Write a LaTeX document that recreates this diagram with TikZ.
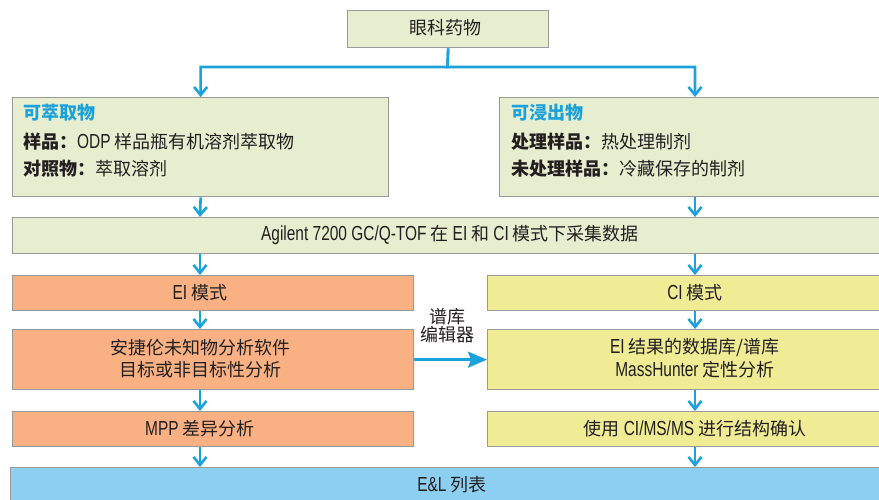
\documentclass[tikz,border=0pt]{standalone}
\usepackage{fontspec}
\setmainfont{Noto Sans CJK SC}
\newfontfamily\latfont{Liberation Sans}[FakeStretch=0.76,Scale=1.13]
\newcommand{\latn}[1]{{\latfont #1}}
\usetikzlibrary{arrows.meta}
\definecolor{gfill}{HTML}{E6EECF}
\definecolor{ofill}{HTML}{F9B183}
\definecolor{yfill}{HTML}{F0EC96}
\definecolor{bfill}{HTML}{8DCFF0}
\definecolor{bord}{HTML}{9A9A9A}
\definecolor{abl}{HTML}{1BA1DC}
\definecolor{txt}{HTML}{231F20}
\begin{document}
\begin{tikzpicture}[x=1pt,y=-1pt,
  bx/.style={draw=bord, line width=1.3pt, inner sep=0pt, anchor=north west},
  tx/.style={text=txt, font=\fontsize{18}{20}\selectfont, inner sep=0pt},
  hd/.style={text=abl, font=\fontsize{18}{20}\selectfont\bfseries, inner sep=0pt, anchor=west},
  arr/.style={draw=abl, line width=2.6pt, line join=miter, -{Straight Barb[length=8pt,width=13pt]}},
  harr/.style={draw=abl, line width=2.6pt, -{Stealth[length=19pt,width=16pt,inset=3pt]}}]
\useasboundingbox (0,0) rectangle (879,500);
\coordinate (lcol) at (200,0);
\coordinate (rcol) at (695,0);
\begin{scope}
\clip (0,0) rectangle (879,500);
\node[bx, fill=gfill, minimum width=201pt, minimum height=37pt] (top) at (347,10) {};
\node[bx, fill=gfill, minimum width=376pt, minimum height=99pt] (ext) at (12,97) {};
\node[bx, fill=gfill, minimum width=393pt, minimum height=99pt] (leach) at (499,97) {};
\node[bx, fill=gfill, minimum width=880pt, minimum height=36pt] (acq) at (12,217) {};
\node[bx, fill=ofill, minimum width=401pt, minimum height=35pt] (ei) at (12,275) {};
\node[bx, fill=yfill, minimum width=405pt, minimum height=35pt] (ci) at (487,275) {};
\node[bx, fill=ofill, minimum width=401pt, minimum height=60pt] (eisw) at (12,329) {};
\node[bx, fill=yfill, minimum width=405pt, minimum height=60pt] (cidb) at (487,329) {};
\node[bx, fill=ofill, minimum width=401pt, minimum height=35pt] (mpp) at (12,411) {};
\node[bx, fill=yfill, minimum width=405pt, minimum height=35pt] (cims) at (487,411) {};
\node[bx, fill=bfill, minimum width=882pt, minimum height=45pt] (el) at (10,467) {};
\end{scope}
% texts
\node[tx] (toptxt) at (445,28) {眼科药物};
\node[hd] (ext1) at (23,113) {可萃取物};
\node[tx, anchor=west] (ext2) at (23,142) {\textbf{样品：}\latn{ODP} 样品瓶有机溶剂萃取物};
\node[tx, anchor=west] (ext3) at (23,169) {\textbf{对照物：}萃取溶剂};
\node[hd] (lea1) at (511,113) {可浸出物};
\node[tx, anchor=west] (lea2) at (511,142) {\textbf{处理样品：}热处理制剂};
\node[tx, anchor=west] (lea3) at (511,169) {\textbf{未处理样品：}冷藏保存的制剂};
\node[tx] (acqtxt) at (450,235) {\latn{Agilent 7200 GC/Q-TOF} 在 \latn{EI} 和 \latn{CI} 模式下采集数据};
\node[tx] (eitxt) at (200,292.5) {\latn{EI} 模式};
\node[tx] (citxt) at (695,292.5) {\latn{CI} 模式};
\node[tx] (eisw1) at (200,348) {安捷伦未知物分析软件};
\node[tx] (eisw2) at (200,370) {目标或非目标性分析};
\node[tx] (cidb1) at (695,348) {\latn{EI} 结果的数据库/谱库};
\node[tx] (cidb2) at (695,370) {\latn{MassHunter} 定性分析};
\node[tx] (mpptxt) at (200,428.5) {\latn{MPP} 差异分析};
\node[tx] (cimstxt) at (695,428.5) {使用 \latn{CI/MS/MS} 进行结构确认};
\node[tx] (eltxt) at (452,485) {\latn{E\&L} 列表};
\node[tx, align=center, font=\fontsize{18}{18}\selectfont] (libtxt) at (447,326) {谱库\\编辑器};
% connectors
\coordinate (split) at (447.5,67);
\draw[arr] (top.south) -- (split) -| (ext.north);
\draw[arr] (top.south) -- (split) -| (leach.north -| rcol);
\draw[arr] (ext.south) -- (acq.north -| lcol);
\draw[arr] (leach.south -| rcol) -- (acq.north -| rcol);
\draw[arr] (acq.south -| lcol) -- (ei.north -| lcol);
\draw[arr] (acq.south -| rcol) -- (ci.north -| rcol);
\draw[arr] (ei.south -| lcol) -- (eisw.north -| lcol);
\draw[arr] (ci.south -| rcol) -- (cidb.north -| rcol);
\draw[arr] (eisw.south -| lcol) -- (mpp.north -| lcol);
\draw[arr] (cidb.south -| rcol) -- (cims.north -| rcol);
\draw[arr] (mpp.south -| lcol) -- (el.north -| lcol);
\draw[arr] (cims.south -| rcol) -- (el.north -| rcol);
\draw[harr] (eisw.east) -- (cidb.west);
\end{tikzpicture}
\end{document}
